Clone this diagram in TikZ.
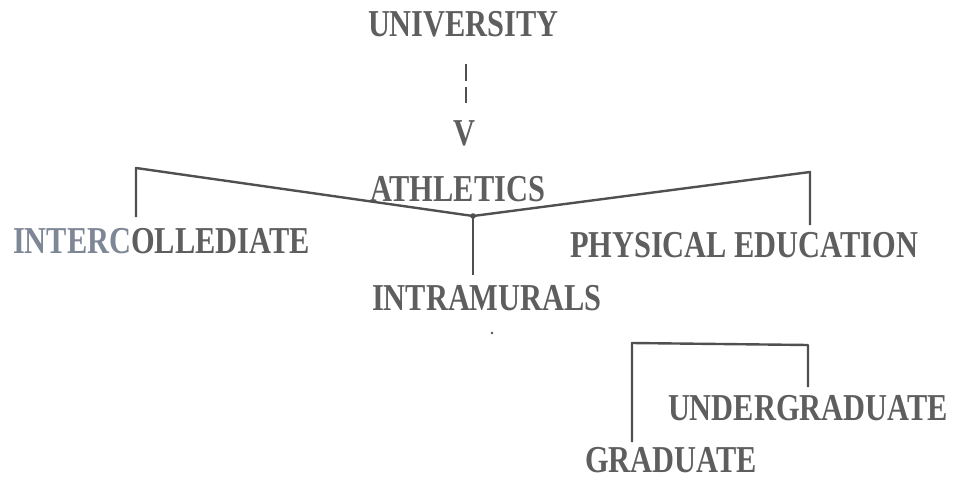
\documentclass[tikz,border=0pt]{standalone}
\usepackage{fontspec}
\setmainfont{Liberation Serif}[FakeStretch=0.8]
\definecolor{txt}{HTML}{5E5E5E}
\definecolor{txtblue}{HTML}{7E8796}
\definecolor{ln}{HTML}{505050}
\begin{document}
\begin{tikzpicture}[x=1pt,y=-1pt,
  lbl/.style={anchor=base west,inner sep=0pt,outer sep=0pt,font=\fontsize{38}{42}\selectfont\bfseries,text=txt},
  conn/.style={draw=ln,line width=2.4pt,line join=round}]
\useasboundingbox (0,0) rectangle (966,481);
\node[lbl] (univ) at (368,37) {UNIVERSITY};
\node[lbl] (v) at (453,146) {V};
\node[lbl] (ath) at (370,202) {ATHLETICS};
\node[lbl] (inter) at (13,253) {\textcolor{txtblue}{INTERC}OLLEDIATE};
\node[lbl] (phys) at (570,257) {PHYSICAL EDUCATION};
\node[lbl] (intra) at (372,310) {INTRAMURALS};
\node[lbl] (under) at (668,420) {UNDERGRADUATE};
\node[lbl] (grad) at (585,472) {GRADUATE};
% dashed link
\coordinate (d1) at (466,64);
\coordinate (d2) at (466,103);
\draw[draw=ln,line width=1.6pt,dash pattern=on 17pt off 6pt] (d1) -- (d2);
% athletics branches
\coordinate (j) at (473,216);
\coordinate (lc) at (136,168);
\coordinate (le) at (136,217);
\coordinate (rc) at (810,172);
\coordinate (re) at (810,225);
\coordinate (me) at (473,275);
\draw[conn] (le) -- (lc) -- (j) -- (rc) -- (re);
\draw[conn] (j) -- (me);
\fill[ln] (j) circle (2.8pt);
% graduate bracket
\coordinate (gb) at (632,442);
\coordinate (gt) at (632,343);
\coordinate (ut) at (808,345);
\coordinate (ub) at (808,387);
\draw[conn] (gb) -- (gt) -- (ut) -- (ub);
% stray dot
\coordinate (dot) at (492,333);
\fill[ln] (dot) circle (1.3pt);
\end{tikzpicture}
\end{document}
